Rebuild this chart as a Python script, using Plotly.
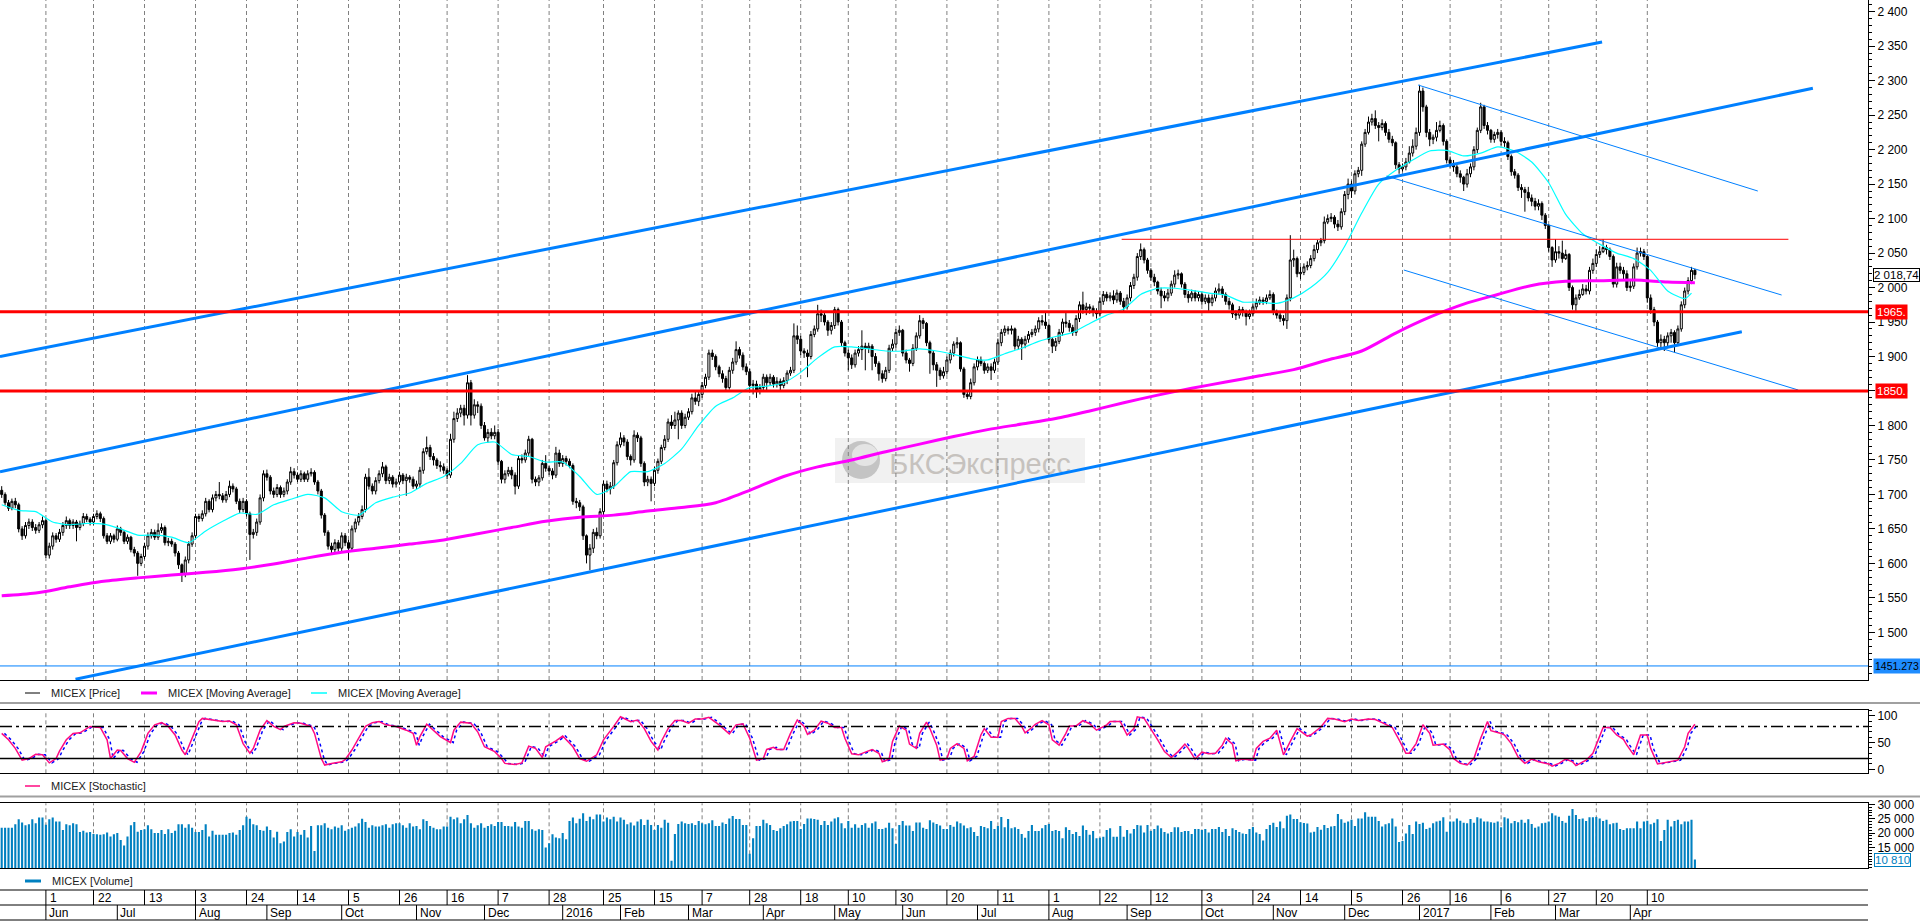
import pandas as pd
import plotly.graph_objects as go

# ---------------------------------------------------------------- data
START_DATE = "2015-05-13"
HOLIDAYS = ["2015-06-12", "2015-11-04", "2016-01-01", "2016-01-06", "2016-01-07",
            "2016-01-08", "2016-02-23", "2016-03-08", "2016-05-02", "2016-05-09",
            "2016-11-04", "2017-01-02", "2017-02-23", "2017-03-08"]
TICK_DATES = ["2015-06-01", "2015-06-22", "2015-07-13", "2015-08-03", "2015-08-24",
              "2015-09-14", "2015-10-05", "2015-10-26", "2015-11-16", "2015-12-07",
              "2015-12-28", "2016-01-25", "2016-02-15", "2016-03-07", "2016-03-28",
              "2016-04-18", "2016-05-10", "2016-05-30", "2016-06-20", "2016-07-11",
              "2016-08-01", "2016-08-22", "2016-09-12", "2016-10-03", "2016-10-24",
              "2016-11-14", "2016-12-05", "2016-12-26", "2017-01-16", "2017-02-06",
              "2017-02-27", "2017-03-20", "2017-04-10"]
PRICE_TICKS = list(range(1500, 2401, 50))

FIRST_OPEN = 1706
CLOSE = [
    1700, 1688, 1680, 1690, 1685, 1650, 1640, 1655, 1660, 1652,
    1648, 1656, 1662, 1612, 1625, 1640, 1635, 1645, 1655, 1662,
    1655, 1660, 1652, 1658, 1668, 1664, 1660, 1668, 1672, 1665,
    1640, 1632, 1640, 1635, 1650, 1645, 1632, 1638, 1620, 1615,
    1600, 1610, 1625, 1640, 1645, 1638, 1648, 1652, 1630, 1632,
    1628, 1615, 1598, 1585, 1605, 1628, 1640, 1668, 1665, 1672,
    1690, 1678, 1695, 1700, 1698, 1692, 1700, 1712, 1708, 1690,
    1678, 1690, 1672, 1642, 1645, 1660, 1695, 1730, 1725, 1705,
    1700, 1710, 1700, 1705, 1718, 1733, 1728, 1722, 1730, 1722,
    1730, 1732, 1718, 1705, 1670, 1645, 1625, 1620, 1630, 1622,
    1640, 1630, 1622, 1650, 1660, 1668, 1678, 1725, 1712, 1705,
    1720, 1730, 1740, 1720, 1725, 1715, 1718, 1728, 1720, 1725,
    1722, 1712, 1715, 1735, 1762, 1768, 1755, 1750, 1742, 1740,
    1735, 1728, 1780, 1810, 1818, 1825, 1815, 1862, 1815, 1830,
    1828, 1800, 1782, 1790, 1785, 1790, 1748, 1722, 1730, 1735,
    1728, 1712, 1752, 1750, 1760, 1780, 1722, 1718, 1724, 1745,
    1738, 1734, 1728, 1760, 1745, 1752, 1748, 1742, 1690, 1688,
    1682, 1640, 1612, 1622, 1645, 1640, 1675, 1715, 1708, 1712,
    1746, 1772, 1782, 1776, 1755, 1750, 1786, 1782, 1745, 1718,
    1722, 1716, 1735, 1748, 1768, 1780, 1805, 1800, 1808, 1818,
    1800, 1812, 1820, 1840, 1835, 1845, 1858, 1870, 1905, 1900,
    1885, 1875, 1868, 1855, 1880, 1892, 1910, 1902, 1885, 1878,
    1858, 1860, 1850, 1855, 1870, 1862, 1870, 1860, 1864, 1858,
    1865, 1876, 1880, 1930, 1925, 1908, 1905, 1900, 1932, 1940,
    1962, 1960, 1950, 1938, 1945, 1968, 1950, 1920, 1905, 1898,
    1888, 1905, 1910, 1915, 1912, 1915, 1900, 1890, 1875, 1868,
    1880, 1912, 1918, 1935, 1938, 1905, 1895, 1890, 1912, 1930,
    1952, 1948, 1920, 1905, 1888, 1880, 1872, 1878, 1895, 1905,
    1918, 1920, 1882, 1845, 1842, 1862, 1885, 1895, 1890, 1880,
    1885, 1880, 1892, 1920, 1935, 1940, 1938, 1940, 1915, 1925,
    1918, 1925, 1932, 1935, 1940, 1952, 1950, 1945, 1925, 1915,
    1922, 1935, 1950, 1948, 1942, 1935, 1955, 1975, 1968, 1972,
    1970, 1965, 1962, 1980, 1990, 1985, 1988, 1982, 1992, 1980,
    1972, 1985, 2003, 2015, 2045, 2055, 2040, 2025, 2015, 2008,
    1995, 1988, 1985, 1992, 2005, 2018, 2020, 2005, 1990, 1985,
    1992, 1985, 1990, 1980, 1985, 1978, 1985, 1995, 1998, 1990,
    1980, 1975, 1962, 1960, 1968, 1965, 1958, 1962, 1972, 1978,
    1982, 1980, 1985, 1990, 1965, 1960, 1955, 1952, 1985, 2040,
    2042, 2020, 2022, 2030, 2032, 2042, 2055, 2065, 2068, 2095,
    2100, 2102, 2092, 2088, 2110, 2135, 2150, 2140, 2165, 2170,
    2208, 2225, 2240, 2245, 2235, 2232, 2238, 2225, 2215, 2210,
    2178, 2172, 2175, 2182, 2195, 2205, 2225, 2285, 2262, 2225,
    2215, 2218, 2228, 2235, 2212, 2185, 2180, 2175, 2165, 2160,
    2150, 2165, 2175, 2200, 2228, 2262, 2235, 2228, 2215, 2222,
    2225, 2212, 2210, 2190, 2168, 2163, 2145, 2142, 2138, 2130,
    2125, 2118, 2122, 2105, 2090, 2058, 2040, 2052, 2050, 2042,
    2048, 2000, 1975, 1985, 1990, 1998, 1995, 2025, 2035, 2048,
    2052, 2058, 2055, 2045, 2005, 2030, 2025, 2020, 2000, 2002,
    2030, 2050, 2052, 2045, 1985, 1968, 1950, 1920, 1925, 1920,
    1930, 1935, 1920, 1940, 1975, 1995, 2010, 2025, 2018.74]
HIGH = [
    1712, 1703, 1692, 1694, 1695, 1688, 1654, 1660, 1665, 1664,
    1657, 1660, 1668, 1665, 1630, 1645, 1644, 1650, 1660, 1668,
    1665, 1664, 1663, 1662, 1673, 1672, 1667, 1672, 1677, 1675,
    1668, 1644, 1644, 1643, 1655, 1653, 1648, 1642, 1640, 1624,
    1618, 1614, 1630, 1645, 1650, 1649, 1658, 1658, 1655, 1637,
    1636, 1631, 1618, 1600, 1610, 1632, 1645, 1672, 1672, 1677,
    1695, 1693, 1700, 1705, 1718, 1702, 1705, 1720, 1716, 1711,
    1694, 1695, 1693, 1675, 1650, 1665, 1700, 1735, 1736, 1728,
    1710, 1715, 1713, 1710, 1722, 1740, 1738, 1732, 1735, 1733,
    1735, 1738, 1735, 1721, 1708, 1673, 1648, 1630, 1635, 1634,
    1645, 1644, 1634, 1655, 1665, 1673, 1684, 1730, 1738, 1716,
    1725, 1735, 1747, 1743, 1730, 1728, 1723, 1733, 1731, 1730,
    1728, 1726, 1720, 1740, 1767, 1784, 1772, 1760, 1753, 1748,
    1745, 1738, 1788, 1820, 1825, 1830, 1830, 1873, 1866, 1838,
    1835, 1832, 1805, 1795, 1796, 1800, 1795, 1750, 1735, 1740,
    1740, 1732, 1756, 1758, 1765, 1785, 1782, 1726, 1728, 1750,
    1757, 1742, 1738, 1769, 1765, 1757, 1756, 1752, 1745, 1695,
    1692, 1685, 1642, 1628, 1650, 1652, 1680, 1720, 1720, 1718,
    1750, 1777, 1790, 1786, 1780, 1758, 1793, 1790, 1785, 1748,
    1727, 1726, 1740, 1752, 1772, 1786, 1810, 1815, 1820, 1822,
    1822, 1817, 1825, 1846, 1850, 1850, 1863, 1875, 1910, 1910,
    1903, 1888, 1880, 1872, 1885, 1898, 1922, 1914, 1906, 1890,
    1882, 1866, 1865, 1860, 1875, 1874, 1875, 1873, 1870, 1868,
    1870, 1880, 1885, 1948, 1945, 1930, 1912, 1910, 1937, 1945,
    1975, 1968, 1963, 1953, 1950, 1972, 1971, 1953, 1923, 1910,
    1903, 1910, 1915, 1938, 1920, 1920, 1918, 1905, 1893, 1880,
    1885, 1917, 1925, 1940, 1945, 1940, 1910, 1898, 1918, 1935,
    1960, 1956, 1950, 1923, 1908, 1892, 1884, 1885, 1900, 1910,
    1922, 1928, 1922, 1885, 1850, 1868, 1890, 1900, 1900, 1893,
    1890, 1890, 1897, 1926, 1940, 1945, 1944, 1945, 1942, 1930,
    1928, 1930, 1937, 1940, 1945, 1957, 1960, 1966, 1948, 1928,
    1927, 1940, 1955, 1964, 1953, 1946, 1960, 1980, 1994, 1978,
    1976, 1974, 1970, 1986, 1995, 1994, 1993, 1996, 1997, 1995,
    1985, 1990, 2008, 2020, 2050, 2064, 2058, 2043, 2028, 2020,
    2010, 2000, 1995, 1998, 2010, 2025, 2026, 2022, 2008, 1995,
    1997, 1996, 1995, 1993, 1990, 1990, 1990, 2000, 2006, 2002,
    1993, 1985, 1978, 1967, 1973, 1972, 1968, 1968, 1977, 1984,
    1987, 1986, 1990, 1996, 1993, 1968, 1963, 1960, 1990, 2076,
    2055, 2045, 2030, 2035, 2038, 2047, 2062, 2069, 2072, 2103,
    2106, 2108, 2105, 2098, 2115, 2140, 2158, 2155, 2170, 2175,
    2212, 2230, 2248, 2252, 2257, 2240, 2244, 2241, 2230, 2220,
    2212, 2182, 2180, 2188, 2205, 2215, 2232, 2294, 2290, 2265,
    2230, 2222, 2240, 2242, 2238, 2215, 2190, 2185, 2178, 2170,
    2162, 2172, 2180, 2205, 2232, 2268, 2265, 2240, 2230, 2226,
    2230, 2228, 2218, 2213, 2193, 2172, 2166, 2150, 2146, 2146,
    2135, 2130, 2128, 2125, 2108, 2092, 2060, 2070, 2060, 2068,
    2055, 2050, 2003, 1990, 1997, 2005, 2004, 2030, 2042, 2055,
    2060, 2070, 2062, 2058, 2048, 2036, 2036, 2030, 2025, 2010,
    2035, 2058, 2058, 2056, 2048, 1990, 1972, 1953, 1932, 1930,
    1935, 1940, 1938, 1945, 1980, 2000, 2015, 2030, 2027]
LOW = [
    1695, 1684, 1676, 1677, 1680, 1645, 1634, 1636, 1650, 1647,
    1643, 1644, 1651, 1608, 1607, 1620, 1630, 1631, 1640, 1650,
    1650, 1650, 1632, 1648, 1654, 1660, 1655, 1656, 1664, 1660,
    1636, 1628, 1628, 1630, 1632, 1640, 1628, 1628, 1616, 1610,
    1582, 1596, 1606, 1620, 1636, 1634, 1634, 1644, 1626, 1625,
    1624, 1610, 1592, 1573, 1580, 1600, 1624, 1636, 1660, 1661,
    1668, 1674, 1674, 1690, 1693, 1688, 1688, 1696, 1703, 1686,
    1673, 1674, 1668, 1605, 1636, 1640, 1656, 1690, 1720, 1700,
    1695, 1696, 1695, 1696, 1700, 1714, 1723, 1718, 1718, 1718,
    1718, 1726, 1714, 1700, 1665, 1640, 1620, 1615, 1615, 1617,
    1618, 1625, 1605, 1618, 1645, 1655, 1664, 1674, 1707, 1700,
    1700, 1716, 1725, 1715, 1715, 1710, 1710, 1714, 1715, 1698,
    1717, 1708, 1708, 1710, 1730, 1758, 1750, 1742, 1737, 1733,
    1730, 1722, 1724, 1775, 1805, 1812, 1800, 1810, 1800, 1810,
    1818, 1795, 1778, 1775, 1780, 1780, 1742, 1716, 1716, 1726,
    1722, 1700, 1708, 1745, 1746, 1756, 1716, 1712, 1712, 1720,
    1733, 1728, 1722, 1724, 1740, 1740, 1742, 1738, 1685, 1680,
    1676, 1634, 1600, 1590, 1615, 1635, 1636, 1670, 1703, 1700,
    1708, 1742, 1768, 1770, 1750, 1742, 1746, 1776, 1740, 1712,
    1712, 1690, 1712, 1730, 1744, 1764, 1776, 1795, 1795, 1780,
    1795, 1796, 1808, 1816, 1830, 1828, 1840, 1854, 1866, 1895,
    1880, 1870, 1862, 1850, 1852, 1875, 1888, 1897, 1880, 1873,
    1852, 1845, 1840, 1845, 1850, 1850, 1858, 1855, 1855, 1850,
    1854, 1860, 1872, 1876, 1918, 1902, 1898, 1870, 1896, 1928,
    1936, 1950, 1945, 1930, 1932, 1940, 1945, 1915, 1900, 1880,
    1882, 1884, 1900, 1895, 1880, 1905, 1880, 1885, 1865, 1862,
    1864, 1876, 1908, 1913, 1930, 1900, 1890, 1878, 1886, 1908,
    1926, 1940, 1915, 1875, 1880, 1856, 1866, 1868, 1874, 1890,
    1900, 1912, 1878, 1840, 1838, 1838, 1858, 1880, 1886, 1875,
    1876, 1866, 1876, 1888, 1915, 1930, 1932, 1932, 1910, 1910,
    1895, 1912, 1920, 1928, 1930, 1935, 1945, 1940, 1920, 1905,
    1908, 1918, 1930, 1942, 1936, 1930, 1930, 1950, 1962, 1960,
    1962, 1958, 1955, 1958, 1975, 1980, 1980, 1976, 1978, 1975,
    1966, 1968, 1980, 1998, 2010, 2040, 2035, 2020, 2010, 2002,
    1990, 1970, 1980, 1980, 1988, 2000, 2012, 2000, 1985, 1978,
    1980, 1980, 1980, 1975, 1976, 1965, 1973, 1980, 1990, 1985,
    1975, 1968, 1956, 1953, 1955, 1958, 1945, 1954, 1958, 1968,
    1975, 1975, 1976, 1982, 1960, 1955, 1950, 1945, 1940, 1980,
    2030, 2015, 2012, 2018, 2025, 2028, 2038, 2050, 2060, 2064,
    2092, 2095, 2086, 2082, 2084, 2105, 2128, 2130, 2135, 2160,
    2162, 2204, 2222, 2235, 2230, 2212, 2228, 2220, 2210, 2205,
    2172, 2165, 2168, 2170, 2180, 2190, 2200, 2220, 2255, 2218,
    2205, 2208, 2212, 2225, 2206, 2180, 2174, 2168, 2160, 2152,
    2140, 2145, 2160, 2170, 2195, 2224, 2230, 2222, 2210, 2210,
    2216, 2206, 2204, 2185, 2162, 2158, 2140, 2130, 2110, 2125,
    2118, 2112, 2112, 2098, 2085, 2052, 2030, 2036, 2042, 2036,
    2040, 1995, 1968, 1965, 1982, 1988, 1990, 1990, 2020, 2030,
    2043, 2050, 2048, 2040, 2000, 2000, 2020, 2012, 1995, 1994,
    1998, 2026, 2045, 2040, 1978, 1962, 1944, 1914, 1910, 1908,
    1912, 1920, 1906, 1915, 1936, 1970, 1990, 2005, 2012]
VOLUME_K = [
    21.9, 21.9, 21.9, 21.9, 23.1, 24.8, 23.7, 22.7, 23.1, 24.8,
    23.4, 25.4, 25.4, 22.9, 24.8, 25.4, 24.0, 24.0, 21.1, 23.1,
    22.7, 23.4, 23.1, 20.4, 20.8, 20.2, 20.4, 19.7, 19.6, 19.4,
    19.6, 20.2, 18.8, 19.6, 20.0, 17.6, 15.7, 18.8, 22.7, 23.9,
    20.5, 21.1, 21.3, 22.7, 21.3, 20.0, 20.0, 21.1, 19.7, 21.3,
    20.0, 20.8, 23.1, 23.1, 21.9, 23.1, 21.9, 20.4, 20.4, 21.1,
    23.1, 18.8, 20.8, 19.4, 19.4, 19.4, 19.4, 20.0, 20.2, 19.4,
    21.1, 22.7, 25.7, 25.0, 23.1, 22.7, 21.1, 20.8, 22.3, 21.1,
    18.5, 20.5, 16.5, 17.1, 20.4, 21.3, 18.8, 20.4, 19.4, 21.1,
    18.5, 22.5, 13.8, 22.7, 22.7, 23.4, 21.9, 21.3, 22.3, 21.9,
    22.7, 20.8, 21.3, 21.9, 22.3, 23.4, 25.0, 23.9, 21.9, 22.7,
    22.3, 22.3, 22.7, 23.1, 21.9, 23.1, 23.4, 23.4, 22.7, 21.9,
    23.4, 22.3, 22.5, 21.3, 24.8, 24.2, 22.5, 21.9, 21.3, 21.3,
    22.3, 22.3, 25.7, 24.8, 25.4, 23.4, 24.8, 26.3, 23.4, 21.9,
    22.7, 23.4, 21.9, 22.5, 23.1, 22.5, 23.9, 23.9, 22.5, 22.5,
    22.3, 23.9, 22.3, 21.9, 24.2, 24.2, 21.3, 20.8, 21.3, 21.1,
    15.0, 16.5, 19.6, 18.5, 18.2, 20.0, 17.9, 24.2, 25.4, 23.4,
    25.0, 26.9, 24.2, 25.7, 24.8, 26.5, 26.5, 24.0, 25.4, 24.8,
    25.7, 24.0, 25.4, 24.6, 23.1, 23.7, 22.6, 24.0, 24.8, 22.8,
    24.6, 22.8, 21.1, 22.8, 21.9, 24.6, 23.6, 10.4, 19.7, 23.2,
    24.0, 23.4, 23.2, 23.4, 22.8, 24.2, 23.4, 23.1, 23.4, 24.5,
    22.5, 22.5, 23.7, 23.2, 25.1, 25.9, 24.9, 24.9, 22.8, 22.8,
    12.8, 18.2, 22.5, 22.5, 24.6, 23.4, 22.8, 21.1, 20.7, 21.7,
    22.5, 23.1, 24.0, 24.2, 24.2, 21.4, 23.2, 25.1, 25.1, 24.9,
    24.6, 22.8, 24.2, 22.8, 24.0, 25.1, 25.5, 23.4, 21.7, 24.2,
    21.9, 23.1, 21.9, 22.8, 23.4, 21.9, 23.4, 24.0, 21.4, 21.4,
    21.9, 23.6, 21.7, 16.2, 22.8, 24.2, 22.6, 22.6, 20.7, 23.7,
    23.7, 21.9, 21.4, 24.5, 23.7, 23.2, 22.6, 21.4, 21.4, 22.8,
    22.2, 24.0, 23.4, 22.6, 21.7, 22.0, 20.4, 19.0, 22.5, 22.1,
    21.7, 24.2, 21.4, 22.5, 25.6, 22.0, 24.9, 21.7, 22.0, 21.4,
    19.7, 18.4, 20.7, 22.8, 20.7, 20.7, 21.7, 22.8, 23.2, 20.7,
    21.1, 20.7, 18.2, 22.0, 21.1, 19.7, 20.4, 19.0, 22.6, 21.1,
    19.4, 20.7, 18.2, 18.4, 18.7, 21.1, 21.7, 18.7, 18.7, 22.5,
    18.7, 21.1, 19.9, 21.4, 22.8, 22.6, 20.2, 22.8, 20.7, 21.4,
    22.6, 21.7, 20.4, 19.9, 20.4, 22.0, 22.0, 20.4, 20.7, 20.7,
    19.7, 21.4, 21.4, 21.1, 21.4, 20.2, 21.4, 21.4, 22.1, 20.4,
    21.4, 19.0, 21.7, 21.1, 20.4, 19.9, 19.7, 21.4, 22.1, 20.2,
    19.7, 17.4, 21.4, 22.8, 23.6, 22.1, 24.0, 21.7, 26.0, 26.5,
    24.9, 24.9, 23.8, 23.5, 23.3, 20.2, 20.5, 22.1, 21.2, 22.8,
    21.8, 22.3, 22.5, 26.6, 24.8, 23.6, 24.0, 24.6, 22.5, 25.1,
    25.1, 27.2, 25.7, 25.7, 25.7, 24.2, 22.3, 23.1, 23.4, 25.1,
    22.3, 16.9, 17.3, 19.9, 22.8, 19.7, 24.0, 23.2, 23.6, 21.4,
    21.9, 23.4, 24.0, 24.3, 25.5, 20.5, 24.0, 24.0, 25.1, 24.3,
    23.6, 23.4, 24.9, 23.6, 25.5, 25.1, 24.0, 24.0, 23.8, 23.6,
    24.0, 22.0, 25.5, 25.1, 23.4, 24.2, 23.8, 24.6, 23.6, 24.8,
    23.2, 21.9, 22.3, 23.4, 23.6, 24.0, 26.9, 26.1, 25.7, 24.2,
    23.6, 26.0, 28.4, 26.3, 24.9, 25.1, 24.2, 25.5, 25.5, 25.6,
    25.1, 24.2, 24.6, 23.1, 23.4, 23.6, 21.4, 21.1, 21.7, 21.7,
    21.7, 24.0, 21.7, 24.0, 24.3, 23.1, 23.6, 24.8, 17.3, 21.1,
    24.6, 22.3, 24.2, 24.6, 23.1, 24.0, 24.0, 24.6, 10.81]

MA_LONG_STEP = 10
MA_LONG = [1553, 1557, 1566, 1574, 1579, 1583, 1587, 1592, 1599, 1608,
           1616, 1622, 1628, 1634, 1643, 1652, 1661, 1667, 1670, 1676,
           1681, 1688, 1706, 1726, 1740, 1750, 1762, 1773, 1784, 1794,
           1802, 1810, 1821, 1833, 1844, 1854, 1863, 1872, 1881, 1895,
           1908, 1934, 1957, 1976, 1990, 2003, 2009, 2010, 2011, 2008, 2007]
MA_SHORT_STEP = 5
MA_SHORT = [1685, 1677, 1675, 1660, 1656, 1658, 1657, 1650, 1641, 1641,
            1638, 1630, 1647, 1661, 1673, 1671, 1685, 1693, 1700, 1695,
            1675, 1670, 1688, 1696, 1702, 1716, 1726, 1745, 1772, 1776,
            1758, 1755, 1747, 1747, 1726, 1700, 1711, 1733, 1733, 1745,
            1766, 1800, 1828, 1840, 1855, 1857, 1862, 1877, 1898, 1914,
            1914, 1911, 1908, 1908, 1911, 1908, 1903, 1897, 1895, 1904,
            1912, 1922, 1929, 1935, 1948, 1960, 1969, 1990, 1999, 1999,
            1996, 1992, 1989, 1979, 1979, 1977, 1985, 2000, 2022, 2060,
            2108, 2150, 2170, 2185, 2198, 2199, 2191, 2195, 2204, 2198,
            2182, 2152, 2106, 2078, 2063, 2050, 2042, 2025, 1995, 1984, 1992]

STOCH_K = [  # (bar, %K)
    (0, 67), (2, 55), (4, 39), (6, 17), (8, 20), (10, 28), (12, 27), (14, 12), (16, 20), (17, 34),
    (19, 55), (21, 67), (23, 68), (25, 76), (26, 80), (29, 78), (31, 55), (32, 20), (34, 36), (35, 35),
    (37, 20), (39, 13), (41, 33), (43, 67), (45, 83), (47, 87), (49, 80), (51, 64), (53, 36), (54, 27),
    (56, 58), (58, 89), (59, 95), (62, 92), (65, 89), (67, 90), (69, 83), (71, 48), (73, 30), (74, 39),
    (76, 73), (78, 91), (80, 80), (82, 74), (83, 80), (86, 87), (88, 86), (91, 80), (92, 67), (94, 20),
    (95, 8), (97, 11), (100, 14), (101, 18), (103, 36), (105, 58), (107, 80), (109, 87), (111, 89), (113, 83),
    (116, 80), (119, 73), (121, 67), (122, 45), (123, 61), (125, 84), (127, 73), (129, 61), (132, 50), (133, 73),
    (135, 88), (138, 86), (140, 70), (142, 42), (145, 33), (147, 20), (148, 11), (151, 9), (153, 12), (155, 43),
    (157, 39), (159, 22), (160, 42), (163, 53), (165, 62), (168, 42), (170, 20), (172, 15), (175, 27), (177, 55),
    (180, 80), (182, 98), (185, 89), (187, 92), (189, 76), (191, 52), (193, 36), (194, 52), (196, 76), (198, 91),
    (200, 91), (202, 86), (204, 94), (206, 94), (208, 97), (211, 83), (214, 66), (216, 83), (218, 85), (220, 58),
    (222, 17), (224, 20), (225, 37), (227, 41), (228, 37), (230, 37), (232, 67), (234, 92), (236, 80), (237, 65),
    (239, 73), (241, 90), (243, 86), (245, 78), (247, 78), (248, 58), (250, 29), (252, 27), (254, 32), (256, 37),
    (258, 30), (259, 14), (261, 19), (262, 52), (264, 81), (266, 73), (267, 47), (269, 39), (270, 67), (272, 88),
    (273, 76), (275, 45), (276, 17), (278, 20), (279, 39), (281, 48), (283, 39), (284, 16), (286, 24), (288, 64),
    (289, 76), (291, 60), (293, 60), (294, 89), (296, 95), (298, 95), (300, 80), (301, 68), (303, 78), (304, 84),
    (306, 91), (308, 83), (309, 55), (311, 45), (313, 67), (314, 81), (316, 81), (318, 91), (320, 85), (322, 73),
    (325, 83), (326, 89), (329, 89), (331, 64), (333, 76), (334, 98), (336, 95), (338, 76), (340, 55), (342, 33),
    (344, 22), (346, 33), (348, 47), (349, 39), (351, 19), (353, 32), (355, 29), (357, 30), (359, 45), (360, 58),
    (362, 47), (363, 16), (365, 19), (368, 17), (369, 39), (371, 52), (373, 58), (375, 73), (376, 52), (377, 27),
    (379, 52), (381, 76), (384, 62), (385, 64), (388, 79), (390, 95), (392, 94), (395, 89), (397, 94), (399, 91),
    (402, 94), (404, 93), (406, 87), (409, 78), (411, 55), (413, 30), (414, 30), (416, 48), (418, 83), (420, 67),
    (421, 45), (424, 47), (426, 36), (427, 20), (429, 11), (431, 8), (433, 20), (435, 58), (437, 89), (438, 72),
    (441, 67), (442, 64), (444, 48), (446, 23), (448, 11), (450, 19), (452, 14), (455, 10), (456, 6), (458, 11),
    (460, 19), (462, 14), (463, 7), (466, 17), (468, 30), (470, 61), (471, 78), (473, 78), (475, 64), (477, 56),
    (478, 45), (480, 27), (482, 64), (484, 64), (485, 39), (487, 10), (488, 11), (491, 14), (493, 17), (495, 42),
    (496, 67), (498, 84)]
STOCH_LEVELS = [80, 20]

LEVELS_RED = [1965, 1850]
LEVEL_BLUE = 1451.273
RESIST_2070 = [(329.4, 2070), (525.5, 2070)]
TREND_THICK = [[(-0.5, 1900), (470.7, 2356)],
               [(-0.5, 1733), (532.7, 2289)],
               [(21.7, 1432), (511.8, 1936)]]
TREND_THIN = [[(416.6, 2293.7), (516.5, 2140.0)],
              [(407.3, 2161.7), (523.5, 1989.2)],
              [(412.4, 2025.4), (528.4, 1851.4)]]

# ---------------------------------------------------------------- helpers
N = len(CLOSE)
OPEN = [FIRST_OPEN] + CLOSE[:-1]          # index opens at previous close
dates = pd.bdate_range(START_DATE, "2017-12-31", freq="C", holidays=HOLIDAYS)[:N]
pos = {d.strftime("%Y-%m-%d"): i for i, d in enumerate(dates)}
xs = list(range(N))
tick_idx = [pos[d] for d in TICK_DATES]
tick_txt = [str(pd.Timestamp(d).day) for d in TICK_DATES]
month_idx, month_txt = [], []
for i in range(1, N):
    if dates[i].month != dates[i - 1].month:
        month_idx.append(i)
        month_txt.append(str(dates[i].year) if dates[i].month == 1 else dates[i].strftime("%b"))

W, H, PR = 1920, 922, 1868
X_RANGE = [-0.5, (PR - 1.7) / 3.4]
FONT = "Liberation Sans, Arial, sans-serif"
BLUE = "#0080FF"
VOLC = "#0080C0"


def fx(p):
    return p / PR


def fy(p):
    return 1 - p / H


fig = go.Figure()

# price panel
fig.add_trace(go.Candlestick(
    x=xs, open=OPEN, high=HIGH, low=LOW, close=CLOSE, whiskerwidth=0,
    increasing=dict(line=dict(color="black", width=1), fillcolor="white"),
    decreasing=dict(line=dict(color="black", width=1), fillcolor="black"),
    hoverinfo="skip", xaxis="x", yaxis="y"))
fig.add_trace(go.Scatter(x=list(range(0, N, MA_LONG_STEP)) + [N - 1], y=MA_LONG, mode="lines",
                         line=dict(color="#FF00FF", width=3, shape="spline", smoothing=0.8),
                         xaxis="x", yaxis="y"))
fig.add_trace(go.Scatter(x=list(range(0, N, MA_SHORT_STEP)) + [N - 2], y=MA_SHORT, mode="lines",
                         line=dict(color="#00FFFF", width=1.2, shape="spline", smoothing=0.6),
                         xaxis="x", yaxis="y"))
for seg in TREND_THICK:
    fig.add_trace(go.Scatter(x=[p[0] for p in seg], y=[p[1] for p in seg], mode="lines",
                             line=dict(color=BLUE, width=3), xaxis="x", yaxis="y"))
for seg in TREND_THIN:
    fig.add_trace(go.Scatter(x=[p[0] for p in seg], y=[p[1] for p in seg], mode="lines",
                             line=dict(color=BLUE, width=1), xaxis="x", yaxis="y"))
fig.add_trace(go.Scatter(x=[p[0] for p in RESIST_2070], y=[p[1] for p in RESIST_2070], mode="lines",
                         line=dict(color="#FF0000", width=1), xaxis="x", yaxis="y"))

# stochastic panel
sb = [p[0] for p in STOCH_K]
sv = [p[1] for p in STOCH_K]
fig.add_trace(go.Scatter(x=[b + 0.8 for b in sb], y=sv, mode="lines",
                         line=dict(color="#0000FF", width=1.5, dash="3px,3px"), xaxis="x2", yaxis="y2"))
fig.add_trace(go.Scatter(x=sb, y=sv, mode="lines", line=dict(color="#FF0A80", width=1.5),
                         xaxis="x2", yaxis="y2"))

# volume panel
fig.add_trace(go.Bar(x=xs, y=VOLUME_K, width=0.62, marker=dict(color=VOLC, line=dict(width=0)),
                     xaxis="x3", yaxis="y3", hoverinfo="skip"))

shapes = []
# watermark (below everything)
shapes.append(dict(type="rect", xref="paper", yref="paper", x0=fx(835), x1=fx(1085), y0=fy(483),
                   y1=fy(438), fillcolor="rgba(236,236,236,0.75)", line=dict(width=0), layer="below"))
shapes.append(dict(type="circle", xref="paper", yref="paper", x0=fx(842), x1=fx(880), y0=fy(479),
                   y1=fy(441), fillcolor="#C4C4C4", line=dict(width=0), layer="below"))
shapes.append(dict(type="circle", xref="paper", yref="paper", x0=fx(852), x1=fx(878), y0=fy(466),
                   y1=fy(444), fillcolor="rgba(255,255,255,0.55)", line=dict(width=0), layer="below"))
shapes.append(dict(type="rect", xref="paper", yref="paper", x0=fx(884), x1=fx(1076), y0=fy(480),
                   y1=fy(441), line=dict(width=0), layer="below",
                   label=dict(text="БКСЭкспресс", textposition="middle center",
                              font=dict(family=FONT, size=29, color="#C6C2BE"))))

# dashed vertical grid at the date ticks, in each panel
for i in tick_idx:
    for yr in ("y domain", "y2 domain", "y3 domain"):
        xr = {"y domain": "x", "y2 domain": "x2", "y3 domain": "x3"}[yr]
        shapes.append(dict(type="line", xref=xr, yref=yr, x0=i, x1=i, y0=0, y1=1, layer="below",
                           line=dict(color="#808080", width=1, dash="4px,3px")))

for lv in LEVELS_RED:
    shapes.append(dict(type="line", xref="x domain", yref="y", x0=0, x1=1, y0=lv, y1=lv,
                       line=dict(color="#FF0000", width=3)))
shapes.append(dict(type="line", xref="x domain", yref="y", x0=0, x1=1, y0=LEVEL_BLUE, y1=LEVEL_BLUE,
                   line=dict(color=BLUE, width=1)))
shapes.append(dict(type="line", xref="x2 domain", yref="y2", x0=0, x1=1, y0=STOCH_LEVELS[0],
                   y1=STOCH_LEVELS[0], line=dict(color="black", width=1.5, dash="12px,4px,3px,4px")))
shapes.append(dict(type="line", xref="x2 domain", yref="y2", x0=0, x1=1, y0=STOCH_LEVELS[1],
                   y1=STOCH_LEVELS[1], line=dict(color="black", width=1.5)))

# gray panel separators
for yp in (703, 796.5):
    shapes.append(dict(type="line", xref="paper", yref="paper", x0=0, x1=fx(W), y0=fy(yp), y1=fy(yp),
                       line=dict(color="#A0A0A0", width=2)))

# date rows
for yy in (0, 0.5, 1):
    shapes.append(dict(type="line", xref="x4 domain", yref="y4 domain", x0=0, x1=1, y0=yy, y1=yy,
                       line=dict(color="black", width=1)))
for i in tick_idx:
    shapes.append(dict(type="line", xref="x4", yref="y4 domain", x0=i, x1=i, y0=0.5, y1=1,
                       line=dict(color="black", width=1)))
for i in month_idx:
    shapes.append(dict(type="line", xref="x4", yref="y4 domain", x0=i, x1=i, y0=0, y1=0.5,
                       line=dict(color="black", width=1)))

annotations = []
# legends
LEGENDS = [
    (693, [(25, 40, "black", 1, "MICEX [Price]"),
           (141, 157, "#FF00FF", 3, "MICEX [Moving Average]"),
           (311, 327, "#00FFFF", 1.5, "MICEX [Moving Average]")]),
    (786, [(25, 40, "#FF0A80", 1.5, "MICEX [Stochastic]")]),
    (881, [(25, 41, VOLC, 3, "MICEX [Volume]")]),
]
for yp, items in LEGENDS:
    for a, b, col, wdt, txt in items:
        shapes.append(dict(type="line", xref="paper", yref="paper", x0=fx(a), x1=fx(b), y0=fy(yp),
                           y1=fy(yp), line=dict(color=col, width=wdt)))
        annotations.append(dict(x=fx(b + 9), y=fy(yp), xref="paper", yref="paper", text=txt,
                                showarrow=False, xanchor="left", yanchor="middle",
                                font=dict(size=11, color="#202020")))

for i, t in zip(tick_idx, tick_txt):
    annotations.append(dict(x=i, y=0.75, xref="x4", yref="y4 domain", text=t, showarrow=False,
                            xanchor="left", yanchor="middle", xshift=2, font=dict(size=12)))
for i, t in zip(month_idx, month_txt):
    annotations.append(dict(x=i, y=0.25, xref="x4", yref="y4 domain", text=t, showarrow=False,
                            xanchor="left", yanchor="middle", xshift=1, font=dict(size=12)))

# right-hand value boxes
last_txt = f"{CLOSE[-1]:,.2f}".replace(",", " ").replace(".", ",")
annotations.append(dict(x=fx(1873), y=CLOSE[-1], xref="paper", yref="y", text=last_txt,
                        showarrow=False, xanchor="left", yanchor="middle", bgcolor="white",
                        bordercolor="black", borderwidth=1, borderpad=0,
                        font=dict(size=11.5, color="black")))
for lv in LEVELS_RED:
    annotations.append(dict(x=fx(1875), y=lv, xref="paper", yref="y", text=f"{lv}.", showarrow=False,
                            xanchor="left", yanchor="middle", bgcolor="#FF0000", borderpad=1,
                            font=dict(size=11.5, color="white")))
annotations.append(dict(x=fx(1873), y=LEVEL_BLUE, xref="paper", yref="y", text=f"{LEVEL_BLUE:.3f}",
                        showarrow=False, xanchor="left", yanchor="middle", bgcolor="#1E8CFF",
                        borderpad=1, font=dict(size=10.5, color="black")))
vol_txt = f"{round(VOLUME_K[-1] * 1000):,}".replace(",", " ")
annotations.append(dict(x=fx(1874), y=VOLUME_K[-1], xref="paper", yref="y3", text=vol_txt,
                        showarrow=False, xanchor="left", yanchor="middle", bgcolor="white",
                        bordercolor=VOLC, borderwidth=1, borderpad=0, font=dict(size=11.5, color=VOLC)))

xcommon = dict(range=X_RANGE, showticklabels=False, ticks="", showgrid=False, zeroline=False,
               showline=True, linecolor="black", linewidth=1, mirror=True)
ycommon = dict(side="right", ticks="outside", ticklen=6, tickwidth=1, tickcolor="black", showgrid=False,
               zeroline=False, showline=True, linecolor="black", linewidth=1, mirror=True,
               tickfont=dict(size=12, color="black"))

fig.update_layout(
    width=W, height=H, margin=dict(l=0, r=W - PR, t=0, b=0, autoexpand=False),
    paper_bgcolor="white", plot_bgcolor="white", showlegend=False, hovermode=False,
    separators=", ", font=dict(family=FONT, size=12, color="black"),
    boxgap=0.3, boxgroupgap=0.15,
    xaxis=dict(**xcommon, anchor="y", rangeslider=dict(visible=False)),
    xaxis2=dict(**xcommon, anchor="y2", matches="x"),
    xaxis3=dict(**xcommon, anchor="y3", matches="x"),
    xaxis4=dict(range=X_RANGE, anchor="y4", visible=False, matches="x"),
    yaxis=dict(**ycommon, domain=[fy(680), 1], range=[1430.9, 2417.0], tickmode="array",
               tickvals=PRICE_TICKS, tickformat=",d",
               minor=dict(tickmode="linear", dtick=10, tick0=0, ticks="outside", ticklen=3,
                          tickcolor="black")),
    yaxis2=dict(**ycommon, domain=[fy(773.3), fy(710.3)], range=[-7.46, 110.1], tickmode="array",
                tickvals=[0, 50, 100],
                minor=dict(tickmode="linear", dtick=10, tick0=0, ticks="outside", ticklen=3,
                           tickcolor="black")),
    yaxis3=dict(**ycommon, domain=[fy(868.3), fy(803.3)], range=[7.78, 30.35], tickmode="array",
                tickvals=[15, 20, 25, 30], ticktext=["15 000", "20 000", "25 000", "30 000"],
                minor=dict(tickmode="linear", dtick=1, tick0=0, ticks="outside", ticklen=3,
                           tickcolor="black")),
    yaxis4=dict(domain=[fy(920), fy(890)], range=[0, 1], visible=False, anchor="x4"),
    shapes=shapes, annotations=annotations,
)

fig.write_html("out.html", config={"displayModeBar": False},
               post_script="document.body.style.margin='0';document.body.style.overflow='hidden';")
